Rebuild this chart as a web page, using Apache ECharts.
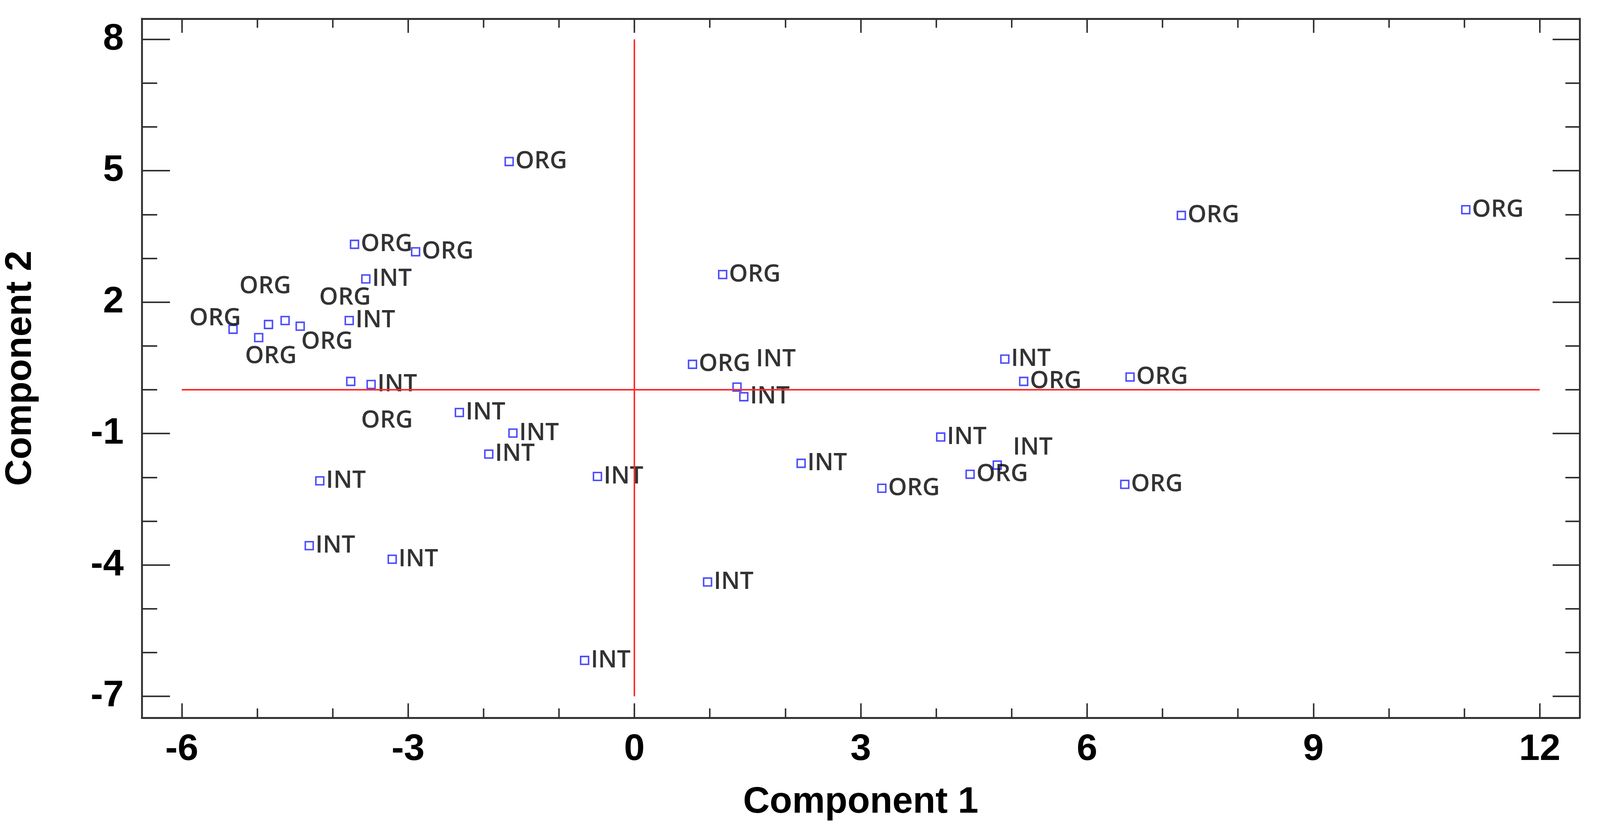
<!DOCTYPE html>
<html lang="en">
<head>
	<meta charset="utf-8"/>
	<title>Component 1 / Component 2</title>
	<script src="https://cdn.jsdelivr.net/npm/echarts@6.0.0/dist/echarts.min.js"></script>
	<style>
		html, body { margin: 0; padding: 0; background: #fff; overflow: hidden; }
		#chart { width: 100vw; height: 100vh; }
	</style>
</head>
<body>
<div id="chart"></div>

<script type="text/javascript">
	// sample groups and scores
	var groups = [
		'ORG', 'ORG', 'ORG', 'ORG', 'ORG', 'ORG', 'ORG', 'ORG', 'ORG',
		'ORG', 'ORG', 'ORG', 'ORG', 'ORG', 'ORG', 'ORG', 'ORG', 'ORG',
		'INT', 'INT', 'INT', 'INT', 'INT', 'INT', 'INT', 'INT', 'INT',
		'INT', 'INT', 'INT', 'INT', 'INT', 'INT', 'INT', 'INT', 'INT'
	];
	var comp1 = [
		-1.66, 7.25, 11.02, -3.71, -2.90, 1.17, -5.32, -4.98, -4.85,
		-4.63, -4.43, -3.76, 0.77, 5.16, 6.57, 4.45, 3.28, 6.50,
		-3.56, -3.78, -3.49, 1.36, 1.45, -2.32, -1.61, -1.93, -4.17,
		-0.49, -4.31, -3.21, 0.97, -0.66, 4.91, 4.06, 4.81, 2.21
	];
	var comp2 = [
		5.21, 3.98, 4.11, 3.32, 3.15, 2.63, 1.38, 1.19, 1.49,
		1.58, 1.45, 0.19, 0.58, 0.19, 0.29, -1.93, -2.25, -2.16,
		2.53, 1.58, 0.12, 0.06, -0.16, -0.52, -0.99, -1.47, -2.08,
		-1.98, -3.56, -3.87, -4.39, -6.18, 0.70, -1.08, -1.72, -1.68
	];

	// axis ticks
	var xMajor = [-6, -3, 0, 3, 6, 9, 12];
	var yMajor = [-7, -4, -1, 2, 5, 8];
	var xMinor = [-6, -5, -4, -3, -2, -1, 0, 1, 2, 3, 4, 5, 6, 7, 8, 9, 10, 11, 12];
	var yMinor = [-7, -6, -5, -4, -3, -2, -1, 0, 1, 2, 3, 4, 5, 6, 7, 8];

	// red reference lines through the origin
	var hLineX = [-6, 12];
	var vLineY = [-7, 8];

	// labels the plotting program moved off their point (px, text left / text middle)
	var labelShift = {
		6: [-118, -29],
		7: [-38, 50],
		8: [-79, -101],
		9: [89, -61],
		10: [1, 42],
		11: [26, 105],
		21: [49, -74],
		34: [40, -46]
	};

	var xRange = [-6.53, 12.53];
	var yRange = [-7.49, 8.47];

	// everything below was measured on a 4255 x 2133 canvas; scale to the real window
	var el = document.getElementById('chart');
	var sx = el.clientWidth / 4255;
	var sy = el.clientHeight / 2133;
	var s = Math.min(sx, sy);

	var gridBox = {
		left: 377 * sx, right: 54 * sx, top: 48 * sy, bottom: 295 * sy,
		outerBoundsMode: 'none'
	};

	var frameColor = '#333333';
	var tickFont = { fontFamily: 'Liberation Sans', fontWeight: 'bold', fontSize: 99 * s, color: '#000' };
	var nameFont = { fontFamily: 'Liberation Sans', fontWeight: 'bold', fontSize: 98 * s, color: '#000' };

	function axis(dim, grid, pos, ticks, len, withLine, withLabel) {
		var range = dim === 'x' ? xRange : yRange;
		return {
			type: 'value',
			gridIndex: grid,
			position: pos,
			min: range[0],
			max: range[1],
			splitLine: { show: false },
			axisLine: { show: withLine, onZero: false, lineStyle: { color: frameColor, width: 5 * s } },
			axisTick: {
				show: true, inside: true, length: len * (dim === 'x' ? sy : sx), customValues: ticks,
				lineStyle: { color: frameColor, width: 4 * s }
			},
			axisLabel: withLabel ? Object.assign({
				show: true,
				customValues: dim === 'x' ? xMajor : yMajor,
				margin: dim === 'x' ? 34 * sy : 48 * sx
			}, tickFont) : { show: false }
		};
	}

	var xAxes = [
		axis('x', 0, 'bottom', xMajor, 37, true, true),
		axis('x', 0, 'top', xMajor, 36, true, false),
		axis('x', 1, 'bottom', xMinor, 24, false, false),
		axis('x', 1, 'top', xMinor, 23, false, false)
	];
	var yAxes = [
		axis('y', 0, 'left', yMajor, 75, true, true),
		axis('y', 0, 'right', yMajor, 72, true, false),
		axis('y', 1, 'left', yMinor, 41, false, false),
		axis('y', 1, 'right', yMinor, 38, false, false)
	];
	Object.assign(xAxes[0], { name: 'Component 1', nameLocation: 'middle', nameGap: 170 * sy, nameTextStyle: nameFont });
	Object.assign(yAxes[0], { name: 'Component 2', nameLocation: 'middle', nameGap: 273 * sx, nameTextStyle: nameFont });

	var points = [];
	for (var i = 0; i < groups.length; i++) {
		var item = { name: groups[i], value: [comp1[i], comp2[i]] };
		if (labelShift[i]) {
			item.label = { offset: [(labelShift[i][0] - 15) * s, labelShift[i][1] * s] };
		}
		points.push(item);
	}

	var chart = echarts.init(el, null, { renderer: 'canvas' });

	var option = {
		backgroundColor: '#ffffff',
		animation: false,
		grid: [Object.assign({}, gridBox), Object.assign({}, gridBox)],
		xAxis: xAxes,
		yAxis: yAxes,
		series: [
			{
				type: 'scatter',
				xAxisIndex: 0,
				yAxisIndex: 0,
				symbol: 'rect',
				symbolSize: 21 * s,
				itemStyle: { color: 'rgba(0,0,0,0)', borderColor: '#1f1fff', borderWidth: 4 * s },
				label: {
					show: true,
					position: 'right',
					distance: 4 * s,
					formatter: '{b}',
					fontFamily: 'Open Sans',
					fontWeight: 600,
					fontSize: 64 * s,
					color: '#000000'
				},
				emphasis: { disabled: true },
				data: points,
				markLine: {
					silent: true,
					symbol: ['none', 'none'],
					label: { show: false },
					lineStyle: { color: '#ff2a2a', width: 4 * s, type: 'solid' },
					data: [
						[{ coord: [hLineX[0], 0] }, { coord: [hLineX[1], 0] }],
						[{ coord: [0, vLineY[0]] }, { coord: [0, vLineY[1]] }]
					]
				}
			}
		]
	};

	chart.setOption(option);
	window.addEventListener('resize', function () { chart.resize(); });
</script>
</body>
</html>
